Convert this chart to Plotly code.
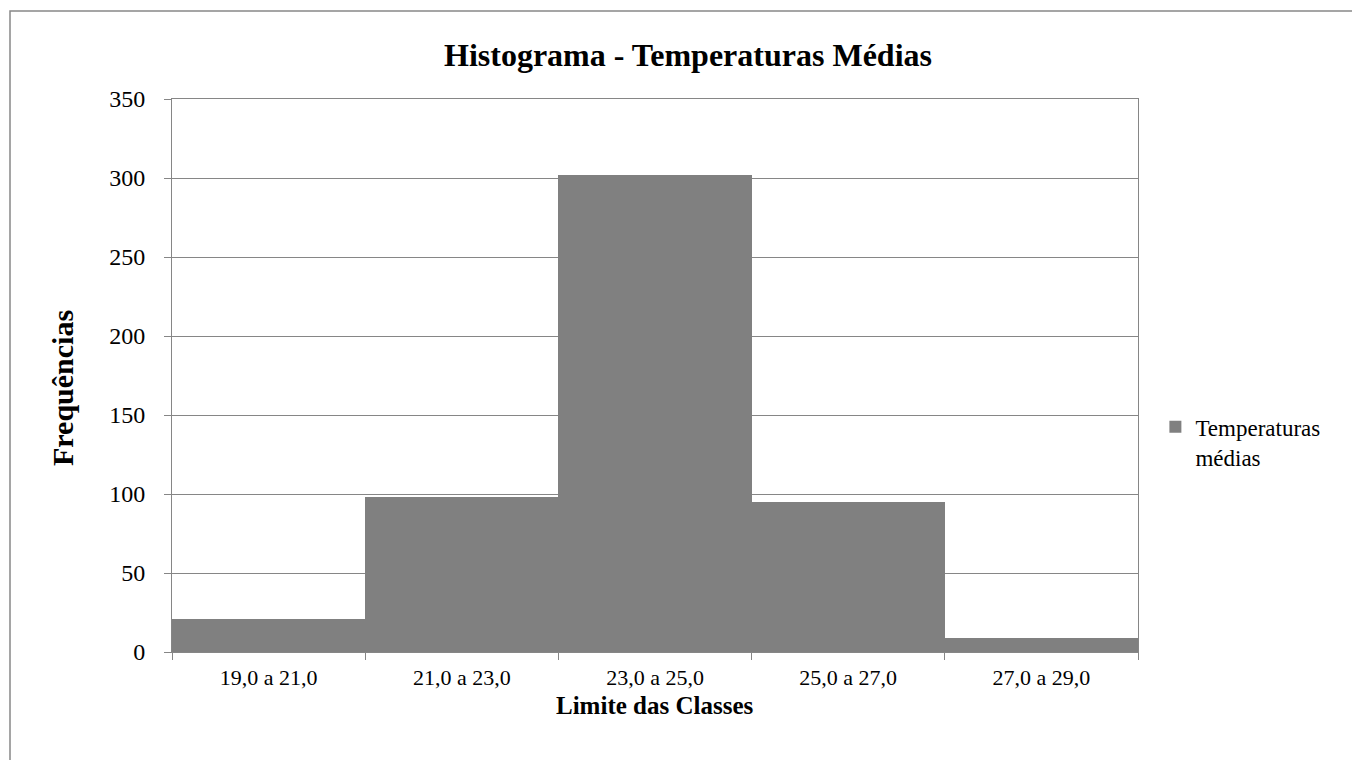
import plotly.graph_objects as go

categories = ["19,0 a 21,0", "21,0 a 23,0", "23,0 a 25,0", "25,0 a 27,0", "27,0 a 29,0"]
frequencies = [21, 98, 302, 95, 9]
series_name = "Temperaturas<br>médias"
y_ticks = [0, 50, 100, 150, 200, 250, 300, 350]

FONT = "Liberation Serif, Times New Roman, serif"
GRAY = "#868686"

fig = go.Figure()
fig.add_trace(go.Bar(
    x=categories, y=frequencies, name=series_name,
    marker=dict(color="#808080", line=dict(width=0)),
    showlegend=True,
))

fig.update_layout(
    width=1360, height=760,
    margin=dict(l=164, r=230, t=91, b=116),
    paper_bgcolor="white", plot_bgcolor="white",
    font=dict(family=FONT, size=24, color="black"),
    bargap=0,
    title=dict(text="<b>Histograma - Temperaturas Médias</b>", x=680 / 1360, xanchor="center",
               xref="container", y=1 - 47 / 760, yanchor="middle", font=dict(size=32, family=FONT)),
    showlegend=True,
    legend=dict(x=1.018, xanchor="left", y=0.38, yanchor="middle", valign="top",
                font=dict(size=23, family=FONT), itemwidth=30, tracegroupgap=0,
                bgcolor="rgba(0,0,0,0)"),
    xaxis=dict(
        type="category", tickson="boundaries", ticks="outside", ticklen=7,
        tickcolor=GRAY, showline=True, linecolor=GRAY, linewidth=1, mirror=True,
        showgrid=False,
        tickfont=dict(size=22, family=FONT), ticklabelstandoff=6,
    ),
    yaxis=dict(
        range=[0, 350], tickvals=y_ticks, ticks="outside", ticklen=7, tickcolor=GRAY,
        showline=True, linecolor=GRAY, linewidth=1, mirror=True,
        showgrid=True, gridcolor=GRAY, gridwidth=1, zeroline=False,
        tickfont=dict(size=24, family=FONT), ticklabelstandoff=14,
    ),
    annotations=[
        dict(text="<b>Limite das Classes</b>", xref="paper", yref="paper",
             x=0.5, y=(652 - 705) / 553, xanchor="center", yanchor="middle",
             showarrow=False, font=dict(size=25, family=FONT)),
        dict(text="<b>Frequências</b>", xref="paper", yref="paper",
             x=(62 - 172) / 966, y=(652 - 388) / 553, xanchor="center", yanchor="middle",
             textangle=-90, showarrow=False, font=dict(size=30, family=FONT)),
    ],
    shapes=[dict(type="rect", xref="paper", yref="paper",
                 x0=(10 - 172) / 966, x1=(1400 - 172) / 966,
                 y0=(652 - 800) / 553, y1=(652 - 11) / 553,
                 line=dict(color="#888888", width=1.5), fillcolor="rgba(0,0,0,0)", layer="below")],
)

fig.write_html("out.html")
